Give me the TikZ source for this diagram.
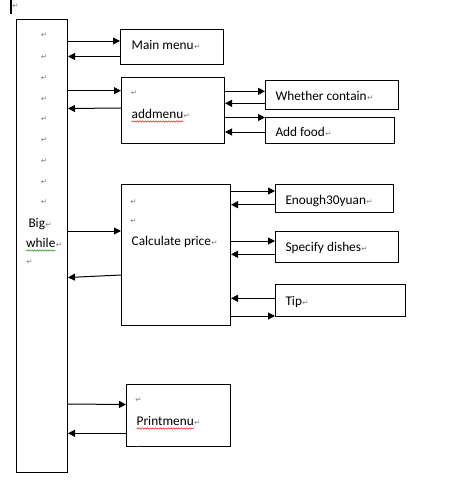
\documentclass[tikz,border=0pt]{standalone}
\usepackage{fontspec}
\setmainfont{Carlito}
\newfontfamily\symfont{DejaVu Sans}
\usetikzlibrary{arrows.meta,decorations.pathmorphing}
\definecolor{markgray}{RGB}{125,125,125}
\definecolor{spellred}{RGB}{230,30,30}
\definecolor{grammargreen}{RGB}{30,140,30}
\newcommand{\retmark}{{\color{markgray}\symfont\fontsize{7.5}{7.5}\selectfont ↵}}
\tikzset{
  box/.style={draw, line width=1pt, inner sep=0pt, anchor=north west},
  txt/.style={inner sep=0pt, anchor=base west, font=\fontsize{13.3}{15}\selectfont},
  mk/.style={inner sep=0pt},
  arr/.style={line width=1pt, -{Triangle[length=7pt,width=7pt]}},
  wavy/.style={line width=0.5pt, decorate, decoration={snake, amplitude=0.7pt, segment length=2.6pt}},
}
\begin{document}
\begin{tikzpicture}[x=1pt,y=-1pt]
\useasboundingbox (0,0) rectangle (473,498);

% text cursor and leading paragraph mark
\draw[line width=1.6pt] (11,0) -- (11,14);
\node[mk] (cursor) at (15.5,6) {\retmark};

% boxes
\node[box, minimum width=51pt,  minimum height=453pt] (big)     at (16,19)  {};
\node[box, minimum width=103pt, minimum height=35pt]  (main)    at (120,29) {};
\node[box, minimum width=103pt, minimum height=66pt]  (add)     at (121,77) {};
\node[box, minimum width=109pt, minimum height=141pt] (calc)    at (121,184) {};
\node[box, minimum width=104pt, minimum height=62pt]  (print)   at (126,384) {};
\node[box, minimum width=133pt, minimum height=29pt]  (whether) at (265,80) {};
\node[box, minimum width=129pt, minimum height=26pt]  (food)    at (265,117) {};
\node[box, minimum width=118pt, minimum height=28pt]  (enough)  at (275,184) {};
\node[box, minimum width=123pt, minimum height=31pt]  (specify) at (275,231) {};
\node[box, minimum width=130pt, minimum height=32pt]  (tip)     at (275,284) {};

% paragraph marks of the big loop box
\foreach \yy [count=\i] in {35,57,78,99,119,140,161,182,202}
  \node[mk] (bm\i) at (44,\yy) {\retmark};
\node[txt] (tbig) at (28.3,227.5) {Big};
\node[mk, anchor=base west] (tbigm) at (tbig.base east) {\retmark};
\node[txt] (twhile) at (26,247) {while};
\node[mk, anchor=base west] (twhilem) at (twhile.base east) {\retmark};
\node[mk] (bm10) at (29.5,262) {\retmark};
\draw[grammargreen, wavy] ([yshift=-3.5pt]twhile.base west) -- ([yshift=-3.5pt]twhile.base east);

% labels of the boxes
\node[txt] (tmain) at (131.5,49) {Main menu};
\node[mk, anchor=base west] (tmainm) at (tmain.base east) {\retmark};

\node[mk] (am1) at (134,93) {\retmark};
\node[txt] (tadd) at (131.5,118) {addmenu};
\node[mk, anchor=base west] (taddm) at (tadd.base east) {\retmark};
\draw[spellred, wavy] ([yshift=-3.5pt]tadd.base west) -- ([yshift=-3.5pt]tadd.base east);

\node[mk] (cm1) at (133.5,202) {\retmark};
\node[mk] (cm2) at (133.5,221) {\retmark};
\node[txt] (tcalc) at (131.5,245.7) {Calculate price};
\node[mk, anchor=base west] (tcalcm) at (tcalc.base east) {\retmark};

\node[mk] (pm1) at (138.5,400.5) {\retmark};
\node[txt] (tprint) at (136.5,425) {Printmenu};
\node[mk, anchor=base west] (tprintm) at (tprint.base east) {\retmark};
\draw[spellred, wavy] ([yshift=-3.5pt]tprint.base west) -- ([yshift=-3.5pt]tprint.base east);
\begin{scope}
  \clip (print.north west) rectangle ([yshift=0.5pt]print.south east);
  \node[mk] (pm2) at (139,448) {\retmark};
\end{scope}

\node[txt] (twhether) at (275.3,100) {Whether contain};
\node[mk, anchor=base west] (twhetherm) at (twhether.base east) {\retmark};
\node[txt] (tfood) at (275.3,136.5) {Add food};
\node[mk, anchor=base west] (tfoodm) at (tfood.base east) {\retmark};
\node[txt] (tenough) at (285.3,204) {Enough30yuan};
\node[mk, anchor=base west] (tenoughm) at (tenough.base east) {\retmark};
\node[txt] (tspecify) at (285.3,251) {Specify dishes};
\node[mk, anchor=base west] (tspecifym) at (tspecify.base east) {\retmark};
\node[txt] (ttip) at (285.3,305) {Tip};
\node[mk, anchor=base west] (ttipm) at (ttip.base east) {\retmark};

% loop box <-> first level
\draw[arr] (big.east |- 0,41)    -- (main.west |- 0,41);
\draw[arr] (main.west |- 0,56.5) -- (big.east |- 0,56.5);
\draw[arr] (big.east |- 0,90.7)  -- (add.west |- 0,90.7);
\draw[arr] (add.west |- 0,108)   -- (big.east |- 0,108.5);
\draw[arr] (big.east |- 0,231)   -- (calc.west |- 0,231);
\draw[arr] (calc.west |- 0,275)  -- (big.east |- 0,277.5);
\draw[arr] (big.east |- 0,404)   -- (print.west |- 0,404.5);
\draw[arr] (print.west |- 0,433.3) -- (big.east |- 0,433.3);

% addmenu <-> its helpers
\draw[arr] (add.east |- 0,91.3)   -- (whether.west |- 0,91.3);
\draw[arr] (whether.west |- 0,103.3) -- (add.east |- 0,103.3);
\draw[arr] (add.east |- 0,117.5)  -- (food.west |- 0,117.5);
\draw[arr] (food.west |- 0,132)   -- (add.east |- 0,132);

% calculate price <-> its helpers
\draw[arr] (calc.east |- 0,191)    -- (enough.west |- 0,191);
\draw[arr] (enough.west |- 0,204.7) -- (calc.east |- 0,204.7);
\draw[arr] (calc.east |- 0,241)    -- (specify.west |- 0,241);
\draw[arr] (specify.west |- 0,254.3) -- (calc.east |- 0,254.3);
\draw[arr] (tip.west |- 0,298.3)   -- (calc.east |- 0,298.3);
\draw[arr] (calc.east |- 0,316)    -- (tip.west |- 0,316);
\end{tikzpicture}
\end{document}
